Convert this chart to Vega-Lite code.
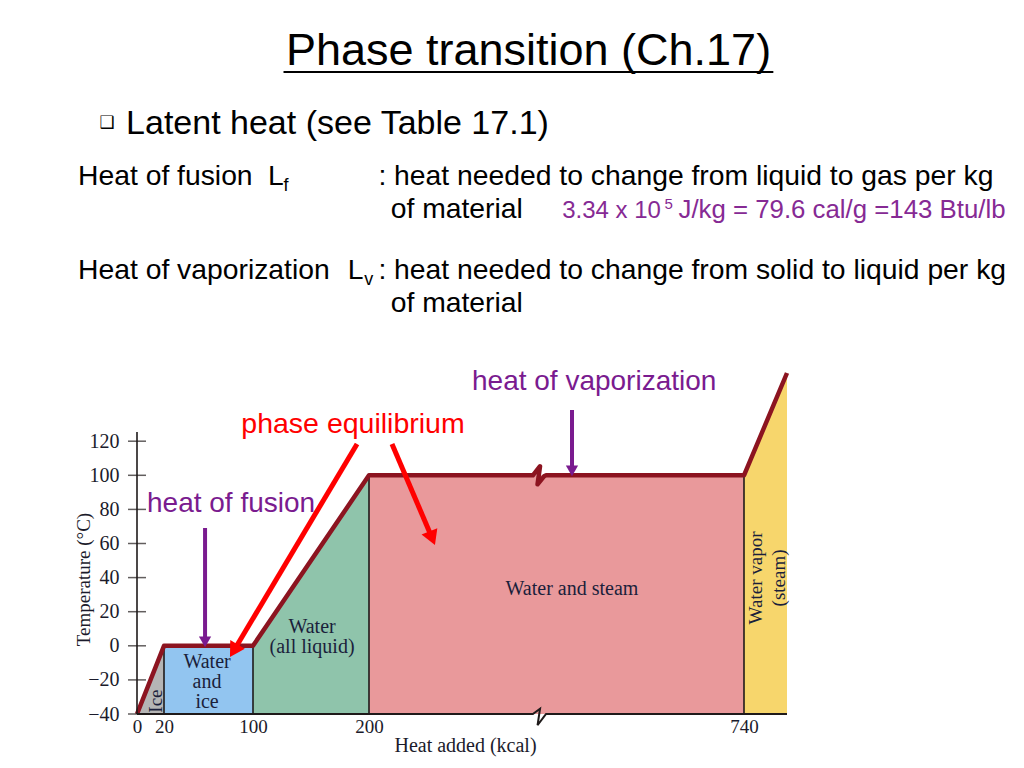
{
  "$schema": "https://vega.github.io/schema/vega-lite/v6.json",
  "width": 650,
  "height": 341,
  "autosize": {"type": "none"},
  "padding": {"left": 137, "top": 373, "right": 237, "bottom": 54},
  "background": "white",
  "config": {"view": {"stroke": null}, "font": "Liberation Sans"},
  "datasets": {
    "regions": [
      {"region": "ice", "x": 0, "y": -40, "y0": -40},
      {"region": "ice", "x": 20, "y": 0, "y0": -40},
      {"region": "ice+water", "x": 20, "y": 0, "y0": -40},
      {"region": "ice+water", "x": 100, "y": 0, "y0": -40},
      {"region": "water", "x": 100, "y": 0, "y0": -40},
      {"region": "water", "x": 200, "y": 100, "y0": -40},
      {"region": "water+steam", "x": 200, "y": 100, "y0": -40},
      {"region": "water+steam", "x": 740, "y": 100, "y0": -40},
      {"region": "steam", "x": 740, "y": 100, "y0": -40},
      {"region": "steam", "x": 780, "y": 160, "y0": -40}
    ],
    "separators": [
      {"x": 20, "y": 0, "y2": -40},
      {"x": 100, "y": 0, "y2": -40},
      {"x": 200, "y": 100, "y2": -40},
      {"x": 740, "y": 100, "y2": -40}
    ],
    "curve": [
      {"i": 0, "x": 0, "y": -40},
      {"i": 1, "x": 20, "y": 0},
      {"i": 2, "x": 100, "y": 0},
      {"i": 3, "x": 200, "y": 100},
      {"i": 4, "x": 436, "y": 100},
      {"i": 5, "x": 446.3, "y": 105.3},
      {"i": 6, "x": 442.7, "y": 94.7},
      {"i": 7, "x": 452, "y": 99.4},
      {"i": 8, "x": 455, "y": 100},
      {"i": 9, "x": 740, "y": 100},
      {"i": 10, "x": 780, "y": 160}
    ],
    "baseline": [
      {"i": 0, "x": 0, "y": -40},
      {"i": 1, "x": 436, "y": -40},
      {"i": 2, "x": 446.3, "y": -36.9},
      {"i": 3, "x": 442.7, "y": -46.6},
      {"i": 4, "x": 452, "y": -41.6},
      {"i": 5, "x": 455, "y": -40},
      {"i": 6, "x": 780, "y": -40}
    ],
    "yticks": [
      {"y": -40}, {"y": -20}, {"y": 0}, {"y": 20}, {"y": 40},
      {"y": 60}, {"y": 80}, {"y": 100}, {"y": 120}
    ],
    "title": [{"x": 429.7, "y": 340.6, "text": "Phase transition (Ch.17)"}],
    "underline": [{"x": 126.3, "x2": 767.3, "y": 336.5}],
    "bullet": [{"x": -22.2, "y": 306.6, "text": "❑"}],
    "subhead": [{"x": -8.1, "y": 300.2, "text": "Latent heat (see Table 17.1)"}],
    "body": [
      {"x": -43.7, "y": 270.3, "text": "Heat of fusion"},
      {"x": 112.9, "y": 270.3, "text": "L"},
      {"x": 213.5, "y": 270.3, "text": ": heat needed to change from liquid to gas per kg"},
      {"x": 231.3, "y": 250.9, "text": "of material"},
      {"x": -43.7, "y": 215.1, "text": "Heat of vaporization"},
      {"x": 181.7, "y": 215.1, "text": "L"},
      {"x": 213.5, "y": 215.1, "text": ": heat needed to change from solid to liquid per kg"},
      {"x": 231.3, "y": 195.8, "text": "of material"}
    ],
    "subscripts": [
      {"x": 126.3, "y": 266.7, "text": "f"},
      {"x": 195.9, "y": 211.6, "text": "v"}
    ],
    "valuesA": [{"x": 478.1, "y": 250.9, "text": "3.34 x 10"}],
    "valuesB": [{"x": 645.7, "y": 250.9, "text": "J/kg = 79.6 cal/g =143 Btu/lb"}],
    "superscript": [{"x": 625.5, "y": 256.2, "text": "5"}],
    "purpleNotes": [
      {"x": 7.4, "y": 78.5, "text": "heat of fusion"},
      {"x": 348.3, "y": 150.2, "text": "heat of vaporization"}
    ],
    "redNotes": [{"x": 89.5, "y": 124.8, "text": "phase equilibrium"}],
    "regionLabels": [
      {"x": 492.3, "y": 33.3, "text": "Water and steam"},
      {"x": 58.7, "y": -9.5, "text": "Water\nand\nice"},
      {"x": 150.9, "y": 11.0, "text": "Water\n(all liquid)"}
    ],
    "rotLabels": [
      {"x": 14.1, "y": -32.4, "text": "Ice"},
      {"x": 751.2, "y": 39.8, "text": "Water vapor"},
      {"x": 772.6, "y": 39.8, "text": "(steam)"}
    ],
    "purpleArrows": [
      {"x": 56.9, "y": 69.1, "x2": 56.9, "y2": 5},
      {"x": 492.3, "y": 138.3, "x2": 492.3, "y2": 105}
    ],
    "purpleHeads": [{"x": 56.9, "y": 2.3}, {"x": 492.3, "y": 102.6}],
    "redArrows": [
      {"x": 189.7, "y": 118.4, "x2": 82.7, "y2": -2.9},
      {"x": 233.1, "y": 118.4, "x2": 291.0, "y2": 63.1}
    ],
    "redHead1": [{"x": 82.7, "y": -2.9}],
    "redHead2": [{"x": 291.0, "y": 63.1}]
  },
  "layer": [
    {
      "data": {"name": "regions"},
      "mark": {"type": "area", "opacity": 1},
      "encoding": {
        "x": {
          "field": "x", "type": "quantitative",
          "scale": {"type": "linear", "domain": [0, 20, 100, 200, 740, 780], "range": [0, 27, 116, 232, 607, 650], "nice": false, "zero": false},
          "axis": {
            "title": "Heat added (kcal)", "values": [0, 20, 100, 200, 740],
            "domain": false, "ticks": false, "tickSize": 0, "grid": false,
            "labelPadding": 3, "labelFlush": false, "labelOverlap": false,
            "labelFont": "Liberation Serif", "labelFontSize": 19, "labelColor": "#1b1b2b",
            "titleFont": "Liberation Serif", "titleFontSize": 20, "titleFontWeight": "normal", "titleColor": "#1b1b2b",
            "titleX": 328, "titleY": 31, "titleBaseline": "middle", "titleAlign": "center"
          }
        },
        "y": {
          "field": "y", "type": "quantitative", "stack": null,
          "scale": {"domain": [-40, 160], "nice": false, "zero": false},
          "axis": {
            "title": "Temperature (°C)", "values": [-40, -20, 0, 20, 40, 60, 80, 100, 120],
            "domain": false, "ticks": false, "tickSize": 0, "grid": false,
            "labelPadding": 18, "labelOverlap": false,
            "labelFont": "Liberation Serif", "labelFontSize": 20, "labelColor": "#1b1b2b",
            "titleFont": "Liberation Serif", "titleFontSize": 19, "titleFontWeight": "normal", "titleColor": "#1b1b2b",
            "titleX": -54, "titleY": 206, "titleBaseline": "middle", "titleAlign": "center", "titleAngle": 270
          }
        },
        "y2": {"field": "y0"},
        "color": {
          "field": "region", "type": "nominal",
          "scale": {"domain": ["ice", "ice+water", "water", "water+steam", "steam"], "range": ["#b5b5b5", "#92c5f0", "#8fc4ab", "#e9999b", "#f7d66c"]},
          "legend": null
        }
      }
    },
    {
      "data": {"name": "separators"},
      "mark": {"type": "rule", "color": "#1f1a1a", "strokeWidth": 1.6},
      "encoding": {
        "x": {"field": "x", "type": "quantitative"},
        "y": {"field": "y", "type": "quantitative"},
        "y2": {"field": "y2"}
      }
    },
    {
      "data": {"name": "curve"},
      "mark": {"type": "line", "color": "#8c1420", "strokeWidth": 4.5, "strokeJoin": "round"},
      "encoding": {
        "x": {"field": "x", "type": "quantitative"},
        "y": {"field": "y", "type": "quantitative"},
        "order": {"field": "i", "type": "quantitative"}
      }
    },
    {
      "data": {"name": "baseline"},
      "mark": {"type": "line", "color": "#1f1a1a", "strokeWidth": 2},
      "encoding": {
        "x": {"field": "x", "type": "quantitative"},
        "y": {"field": "y", "type": "quantitative"},
        "order": {"field": "i", "type": "quantitative"}
      }
    },
    {
      "data": {"values": [{}]},
      "mark": {"type": "rule", "color": "#1f1a1a", "strokeWidth": 1.6},
      "encoding": {
        "x": {"datum": 0},
        "y": {"datum": -40},
        "y2": {"datum": 125.4}
      }
    },
    {
      "data": {"name": "yticks"},
      "mark": {"type": "tick", "orient": "horizontal", "size": 18, "thickness": 1.5, "color": "#1f1a1a"},
      "encoding": {
        "x": {"datum": 0},
        "y": {"field": "y", "type": "quantitative"}
      }
    },
    {
      "data": {"name": "regionLabels"},
      "mark": {"type": "text", "font": "Liberation Serif", "fontSize": 20, "color": "#1b1f3b", "align": "center", "baseline": "middle", "lineBreak": "\n", "lineHeight": 20},
      "encoding": {
        "x": {"field": "x", "type": "quantitative"},
        "y": {"field": "y", "type": "quantitative"},
        "text": {"field": "text"}
      }
    },
    {
      "data": {"name": "rotLabels"},
      "mark": {"type": "text", "font": "Liberation Serif", "fontSize": 19, "color": "#1b1f3b", "align": "center", "baseline": "middle", "angle": 270},
      "encoding": {
        "x": {"field": "x", "type": "quantitative"},
        "y": {"field": "y", "type": "quantitative"},
        "text": {"field": "text"}
      }
    },
    {
      "data": {"name": "title"},
      "mark": {"type": "text", "font": "Liberation Sans", "fontSize": 45, "color": "#000000", "align": "center", "baseline": "alphabetic"},
      "encoding": {
        "x": {"field": "x", "type": "quantitative"},
        "y": {"field": "y", "type": "quantitative"},
        "text": {"field": "text"}
      }
    },
    {
      "data": {"name": "underline"},
      "mark": {"type": "rule", "color": "#000000", "strokeWidth": 2},
      "encoding": {
        "x": {"field": "x", "type": "quantitative"},
        "x2": {"field": "x2"},
        "y": {"field": "y", "type": "quantitative"}
      }
    },
    {
      "data": {"name": "bullet"},
      "mark": {"type": "text", "font": "DejaVu Sans", "fontSize": 17, "color": "#000000", "align": "center", "baseline": "middle"},
      "encoding": {
        "x": {"field": "x", "type": "quantitative"},
        "y": {"field": "y", "type": "quantitative"},
        "text": {"field": "text"}
      }
    },
    {
      "data": {"name": "subhead"},
      "mark": {"type": "text", "font": "Liberation Sans", "fontSize": 34, "color": "#000000", "align": "left", "baseline": "alphabetic"},
      "encoding": {
        "x": {"field": "x", "type": "quantitative"},
        "y": {"field": "y", "type": "quantitative"},
        "text": {"field": "text"}
      }
    },
    {
      "data": {"name": "body"},
      "mark": {"type": "text", "font": "Liberation Sans", "fontSize": 28.3, "color": "#000000", "align": "left", "baseline": "alphabetic"},
      "encoding": {
        "x": {"field": "x", "type": "quantitative"},
        "y": {"field": "y", "type": "quantitative"},
        "text": {"field": "text"}
      }
    },
    {
      "data": {"name": "subscripts"},
      "mark": {"type": "text", "font": "Liberation Sans", "fontSize": 18, "color": "#000000", "align": "left", "baseline": "alphabetic"},
      "encoding": {
        "x": {"field": "x", "type": "quantitative"},
        "y": {"field": "y", "type": "quantitative"},
        "text": {"field": "text"}
      }
    },
    {
      "data": {"name": "valuesA"},
      "mark": {"type": "text", "font": "Liberation Sans", "fontSize": 24, "color": "#862a94", "align": "left", "baseline": "alphabetic"},
      "encoding": {
        "x": {"field": "x", "type": "quantitative"},
        "y": {"field": "y", "type": "quantitative"},
        "text": {"field": "text"}
      }
    },
    {
      "data": {"name": "valuesB"},
      "mark": {"type": "text", "font": "Liberation Sans", "fontSize": 25.8, "color": "#862a94", "align": "left", "baseline": "alphabetic"},
      "encoding": {
        "x": {"field": "x", "type": "quantitative"},
        "y": {"field": "y", "type": "quantitative"},
        "text": {"field": "text"}
      }
    },
    {
      "data": {"name": "superscript"},
      "mark": {"type": "text", "font": "Liberation Sans", "fontSize": 15, "color": "#862a94", "align": "left", "baseline": "alphabetic"},
      "encoding": {
        "x": {"field": "x", "type": "quantitative"},
        "y": {"field": "y", "type": "quantitative"},
        "text": {"field": "text"}
      }
    },
    {
      "data": {"name": "purpleNotes"},
      "mark": {"type": "text", "font": "Liberation Sans", "fontSize": 28, "color": "#7a1b8f", "align": "left", "baseline": "alphabetic"},
      "encoding": {
        "x": {"field": "x", "type": "quantitative"},
        "y": {"field": "y", "type": "quantitative"},
        "text": {"field": "text"}
      }
    },
    {
      "data": {"name": "redNotes"},
      "mark": {"type": "text", "font": "Liberation Sans", "fontSize": 28.5, "color": "#ff0000", "align": "left", "baseline": "alphabetic"},
      "encoding": {
        "x": {"field": "x", "type": "quantitative"},
        "y": {"field": "y", "type": "quantitative"},
        "text": {"field": "text"}
      }
    },
    {
      "data": {"name": "purpleArrows"},
      "mark": {"type": "rule", "color": "#7a1b8f", "strokeWidth": 4},
      "encoding": {
        "x": {"field": "x", "type": "quantitative"},
        "y": {"field": "y", "type": "quantitative"},
        "x2": {"field": "x2"},
        "y2": {"field": "y2"}
      }
    },
    {
      "data": {"name": "purpleHeads"},
      "mark": {"type": "point", "shape": "triangle-down", "size": 150, "filled": true, "opacity": 1, "color": "#7a1b8f"},
      "encoding": {
        "x": {"field": "x", "type": "quantitative"},
        "y": {"field": "y", "type": "quantitative"}
      }
    },
    {
      "data": {"name": "redArrows"},
      "mark": {"type": "rule", "color": "#ff0000", "strokeWidth": 5},
      "encoding": {
        "x": {"field": "x", "type": "quantitative"},
        "y": {"field": "y", "type": "quantitative"},
        "x2": {"field": "x2"},
        "y2": {"field": "y2"}
      }
    },
    {
      "data": {"name": "redHead1"},
      "mark": {"type": "point", "shape": "triangle-down", "size": 289, "filled": true, "opacity": 1, "color": "#ff0000", "angle": 31},
      "encoding": {
        "x": {"field": "x", "type": "quantitative"},
        "y": {"field": "y", "type": "quantitative"}
      }
    },
    {
      "data": {"name": "redHead2"},
      "mark": {"type": "point", "shape": "triangle-down", "size": 289, "filled": true, "opacity": 1, "color": "#ff0000", "angle": 338},
      "encoding": {
        "x": {"field": "x", "type": "quantitative"},
        "y": {"field": "y", "type": "quantitative"}
      }
    }
  ]
}
